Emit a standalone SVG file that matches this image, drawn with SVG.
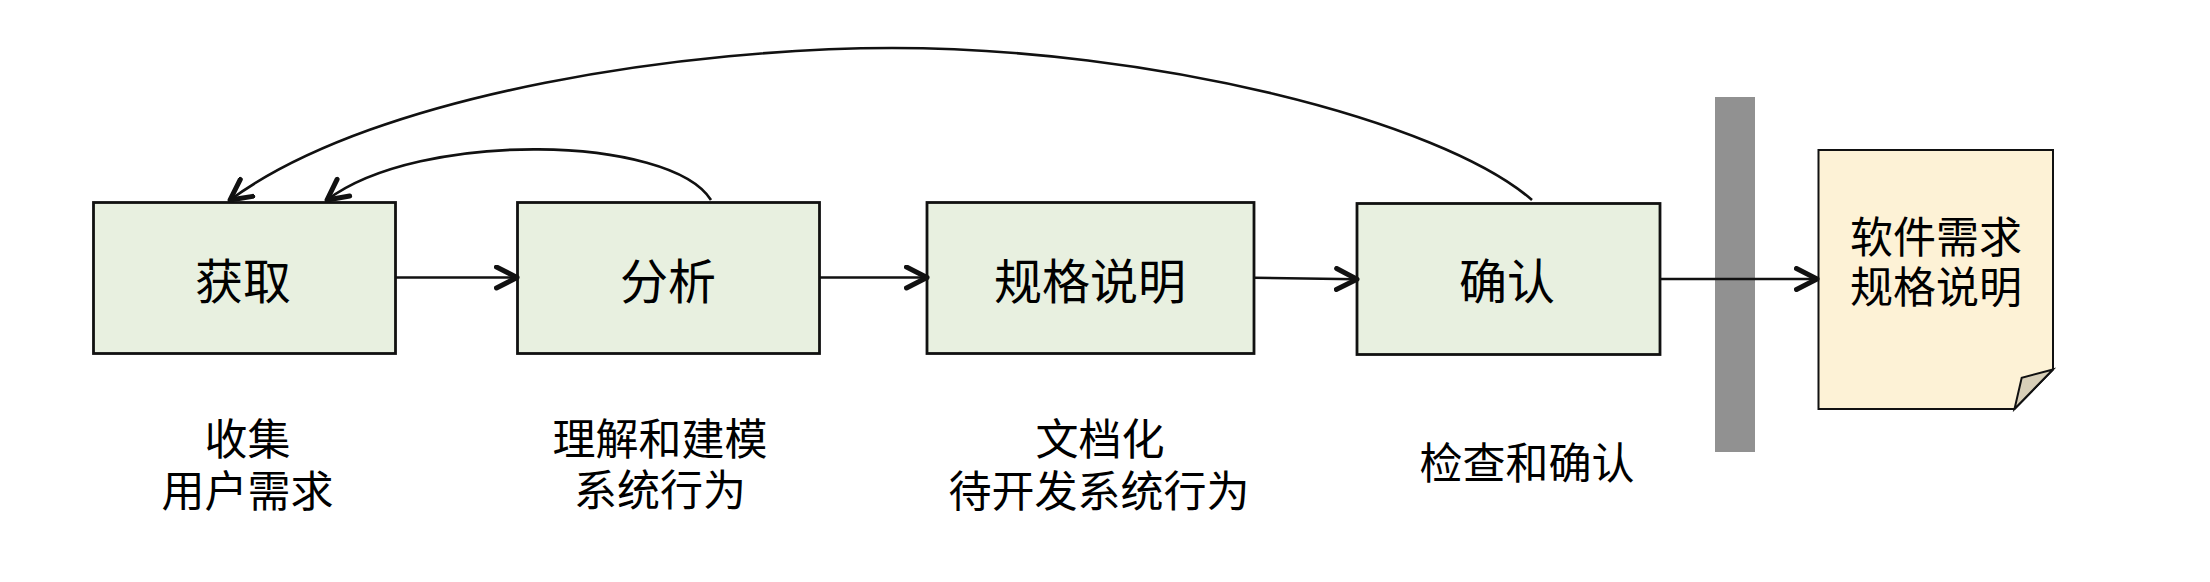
<svg xmlns="http://www.w3.org/2000/svg" width="2210" height="582" viewBox="0 0 2210 582">
  <style>
    .box { fill: #E8F0E0; stroke: #111111; stroke-width: 2.8; }
    .doc { fill: #FDF2D6; stroke: #111111; stroke-width: 2; }
    .fold { fill: #D8CFB8; stroke: #111111; stroke-width: 2; stroke-linejoin: miter; }
    .bar { fill: #919191; }
    .conn { fill: none; stroke: #111111; stroke-width: 2.6; }
    .t { font-family: "Liberation Sans", "Noto Sans CJK SC", sans-serif; fill: #000000; text-anchor: middle; }
    .tb { font-size: 48px; }
    .tl { font-size: 43px; }
  </style>
  <defs>
    <marker id="arr" viewBox="0 0 26 26" refX="23" refY="13" markerWidth="26" markerHeight="26" markerUnits="userSpaceOnUse" orient="auto">
      <path d="M2.5,2.5 L23,13 L2.5,23.5" fill="none" stroke="#111111" stroke-width="5" stroke-linecap="round" stroke-linejoin="round"/>
    </marker>
  </defs>

  <rect class="bar" x="1715" y="97" width="40" height="355"/>

  <g id="node-acquire">
    <rect class="box" x="93.5" y="202.5" width="302" height="151"/>
    <text class="t tb" x="243" y="299">获取</text>
  </g>
  <g id="node-analysis">
    <rect class="box" x="517.5" y="202.5" width="302" height="151"/>
    <text class="t tb" x="668" y="299">分析</text>
  </g>
  <g id="node-spec">
    <rect class="box" x="927" y="202.5" width="327" height="151"/>
    <text class="t tb" x="1090" y="299">规格说明</text>
  </g>
  <g id="node-validate">
    <rect class="box" x="1357" y="203.5" width="303" height="151"/>
    <text class="t tb" x="1507" y="299">确认</text>
  </g>
  <g id="node-document">
    <path class="doc" d="M1818.5,150 H2053 V369.5 L2014.5,409 H1818.5 Z"/>
    <polygon class="fold" points="2053,369.5 2021.7,377.7 2014.5,409"/>
    <text class="t tl" x="1936" y="253"><tspan x="1936" y="253">软件需求</tspan><tspan x="1936" y="303">规格说明</tspan></text>
  </g>

  <g id="labels">
    <text class="t tl" x="247.5" y="455"><tspan x="247.5" y="455">收集</tspan><tspan x="247.5" y="507">用户需求</tspan></text>
    <text class="t tl" x="660" y="455"><tspan x="660" y="455">理解和建模</tspan><tspan x="660" y="506">系统行为</tspan></text>
    <text class="t tl" x="1100" y="455"><tspan x="1100" y="455">文档化</tspan><tspan x="1099" y="507">待开发系统行为</tspan></text>
    <text class="t tl" x="1527" y="479">检查和确认</text>
  </g>

  <g id="connectors">
    <line class="conn" x1="396" y1="277.5" x2="517" y2="277.5" marker-end="url(#arr)"/>
    <line class="conn" x1="819.5" y1="277.5" x2="927" y2="277.5" marker-end="url(#arr)"/>
    <line class="conn" x1="1254" y1="277.7" x2="1357" y2="279.3" marker-end="url(#arr)"/>
    <line class="conn" x1="1660" y1="279" x2="1817" y2="279" marker-end="url(#arr)"/>
    <path class="conn" d="M711,200 C670,135 420,130 327,200" marker-end="url(#arr)"/>
    <path class="conn" d="M1532,200 C1440,120 1150,48 892,48 C700,48 380,90 230,200" marker-end="url(#arr)"/>
  </g>
</svg>
